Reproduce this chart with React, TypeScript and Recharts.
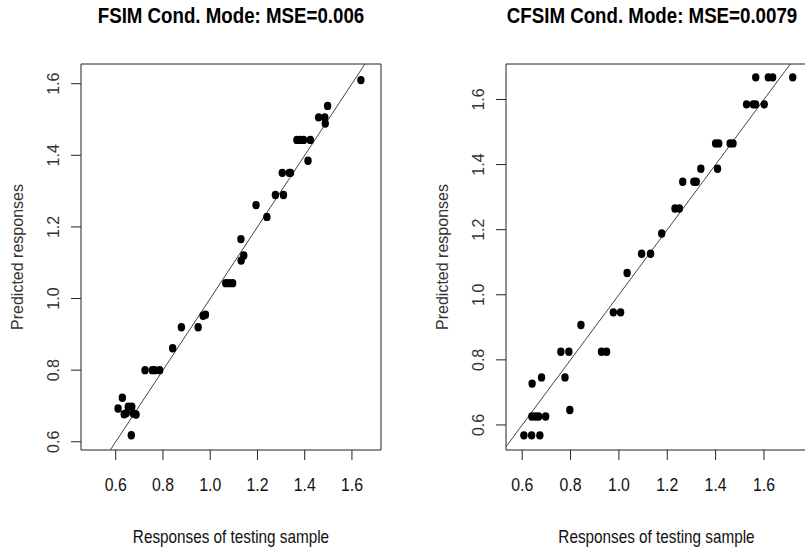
import {
  Label,
  ReferenceArea,
  ReferenceLine,
  Scatter,
  ScatterChart,
  XAxis,
  YAxis,
} from 'recharts';

const fsimObserved = [
  0.61, 0.628, 0.636, 0.645, 0.653, 0.668, 0.675, 0.686, 0.666,
  0.724, 0.755, 0.765, 0.786,
  0.841, 0.878, 0.949, 0.97, 0.98,
  1.066, 1.08, 1.095,
  1.131, 1.142, 1.13, 1.194, 1.24,
  1.276, 1.31, 1.305, 1.335, 1.34,
  1.367, 1.381, 1.395, 1.424, 1.414,
  1.459, 1.485, 1.487, 1.497, 1.638,
];
const fsimPredicted = [
  0.693, 0.723, 0.677, 0.68, 0.698, 0.698, 0.679, 0.676, 0.618,
  0.8, 0.8, 0.8, 0.8,
  0.861, 0.92, 0.92, 0.952, 0.955,
  1.043, 1.043, 1.043,
  1.106, 1.12, 1.166, 1.261, 1.228,
  1.289, 1.289, 1.351, 1.351, 1.351,
  1.443, 1.443, 1.443, 1.443, 1.385,
  1.506, 1.506, 1.489, 1.538, 1.61,
];

const cfsimObserved = [
  0.607, 0.639, 0.673,
  0.64, 0.655, 0.668, 0.697,
  0.641, 0.68, 0.777, 0.797,
  0.76, 0.793, 0.928, 0.949,
  0.843, 0.977, 1.007,
  1.034, 1.094, 1.131, 1.177,
  1.232, 1.25, 1.264, 1.31, 1.32, 1.339, 1.408,
  1.4, 1.413, 1.46, 1.472,
  1.528, 1.556, 1.565, 1.601,
  1.566, 1.618, 1.636, 1.719,
];
const cfsimPredicted = [
  0.568, 0.568, 0.568,
  0.626, 0.626, 0.626, 0.626,
  0.727, 0.746, 0.746, 0.646,
  0.825, 0.825, 0.825, 0.825,
  0.907, 0.946, 0.946,
  1.067, 1.126, 1.126, 1.188,
  1.265, 1.265, 1.347, 1.347, 1.347, 1.387, 1.387,
  1.465, 1.465, 1.465, 1.465,
  1.585, 1.585, 1.585, 1.585,
  1.668, 1.668, 1.668, 1.668,
];

const ticks = [0.6, 0.8, 1.0, 1.2, 1.4, 1.6];
const titles = ['FSIM Cond. Mode: MSE=0.006', 'CFSIM Cond. Mode: MSE=0.0079'];
const xTitle = 'Responses of testing sample';
const yTitle = 'Predicted responses';

const FONT = '"Liberation Sans", Arial, Helvetica, sans-serif';
const INK = '#222';

const XTick = ({ x, y, payload }: any) => (
  <text
    transform={`translate(${x},${y + 29}) scale(0.88,1)`}
    textAnchor="middle"
    fontSize={18}
    fontFamily={FONT}
    fill="#111"
  >
    {Number(payload.value).toFixed(1)}
  </text>
);

const YTick = ({ x, y, payload }: any) => (
  <text
    transform={`translate(${x - 10.5},${y}) rotate(-90)`}
    textAnchor="middle"
    fontSize={16}
    fontFamily={FONT}
    fill="#333"
  >
    {Number(payload.value).toFixed(1)}
  </text>
);

const Dot = ({ cx, cy }: any) => (
  <ellipse cx={cx} cy={cy} rx={3.7} ry={4.2} fill="#000" />
);

function Panel({
  obs,
  pred,
  xDomain,
  yDomain,
  title,
  titleShift,
  left,
  width,
  yAxisWidth,
  marginRight,
}: {
  obs: number[];
  pred: number[];
  xDomain: [number, number];
  yDomain: [number, number];
  title: string;
  titleShift: number;
  left: number;
  width: number;
  yAxisWidth: number;
  marginRight: number;
}) {
  const data = obs.map((x, i) => ({ x, y: pred[i] }));
  const lo = Math.max(xDomain[0], yDomain[0]);
  const hi = Math.min(xDomain[1], yDomain[1]);
  const plotLeft = left + yAxisWidth;
  const plotWidth = width - yAxisWidth - marginRight;
  const titleCenter = plotLeft + plotWidth / 2 + titleShift;
  return (
    <>
      <div
        style={{
          position: 'absolute',
          left: titleCenter - 300,
          width: 600,
          top: 3,
          textAlign: 'center',
          fontFamily: FONT,
          fontWeight: 'bold',
          fontSize: 22,
          color: '#000',
          transform: 'scaleX(0.85)',
          whiteSpace: 'nowrap',
        }}
      >
        {title}
      </div>
      <div style={{ position: 'absolute', left, top: 0 }}>
        <ScatterChart
          width={width}
          height={549}
          margin={{ top: 64, right: marginRight, bottom: 0, left: 0 }}
        >
          <XAxis
            type="number"
            dataKey="x"
            domain={xDomain}
            ticks={ticks}
            allowDataOverflow
            axisLine={false}
            tickLine={{ stroke: INK }}
            tickSize={10}
            height={99}
            tick={<XTick />}
          >
            <Label
              content={({ viewBox }: any) => (
                <text
                  transform={`translate(${viewBox.x + viewBox.width / 2},${viewBox.y + 93}) scale(0.85,1)`}
                  textAnchor="middle"
                  fontSize={18}
                  fontFamily={FONT}
                  fill="#111"
                >
                  {xTitle}
                </text>
              )}
            />
          </XAxis>
          <YAxis
            type="number"
            dataKey="y"
            domain={yDomain}
            ticks={ticks}
            allowDataOverflow
            axisLine={false}
            tickLine={{ stroke: INK }}
            tickSize={10}
            width={yAxisWidth}
            tick={<YTick />}
          >
            <Label
              content={({ viewBox }: any) => (
                <text
                  transform={`translate(${viewBox.x + viewBox.width - 58},${viewBox.y + viewBox.height / 2}) rotate(-90)`}
                  textAnchor="middle"
                  fontSize={16}
                  fontFamily={FONT}
                  fill="#333"
                >
                  {yTitle}
                </text>
              )}
            />
          </YAxis>
          <ReferenceArea
            x1={xDomain[0]}
            x2={xDomain[1]}
            y1={yDomain[0]}
            y2={yDomain[1]}
            fill="none"
            fillOpacity={0}
            stroke={INK}
            strokeWidth={1}
            strokeOpacity={1}
          />
          <ReferenceLine
            segment={[
              { x: lo, y: lo },
              { x: hi, y: hi },
            ]}
            stroke="#444"
            strokeWidth={1}
          />
          <Scatter data={data} shape={<Dot />} isAnimationActive={false} />
        </ScatterChart>
      </div>
    </>
  );
}

export default function App() {
  return (
    <div
      style={{
        position: 'absolute',
        left: 0,
        top: 0,
        width: 805,
        height: 549,
        overflow: 'hidden',
        background: '#fff',
      }}
    >
      <Panel
        obs={fsimObserved}
        pred={fsimPredicted}
        xDomain={[0.453, 1.723]}
        yDomain={[0.577, 1.655]}
        title={titles[0]}
        titleShift={0}
        left={0}
        width={400}
        yAxisWidth={81}
        marginRight={19}
      />
      <Panel
        obs={cfsimObserved}
        pred={cfsimPredicted}
        xDomain={[0.533, 1.778]}
        yDomain={[0.523, 1.709]}
        title={titles[1]}
        titleShift={-5}
        left={420}
        width={387}
        yAxisWidth={86}
        marginRight={0}
      />
    </div>
  );
}
